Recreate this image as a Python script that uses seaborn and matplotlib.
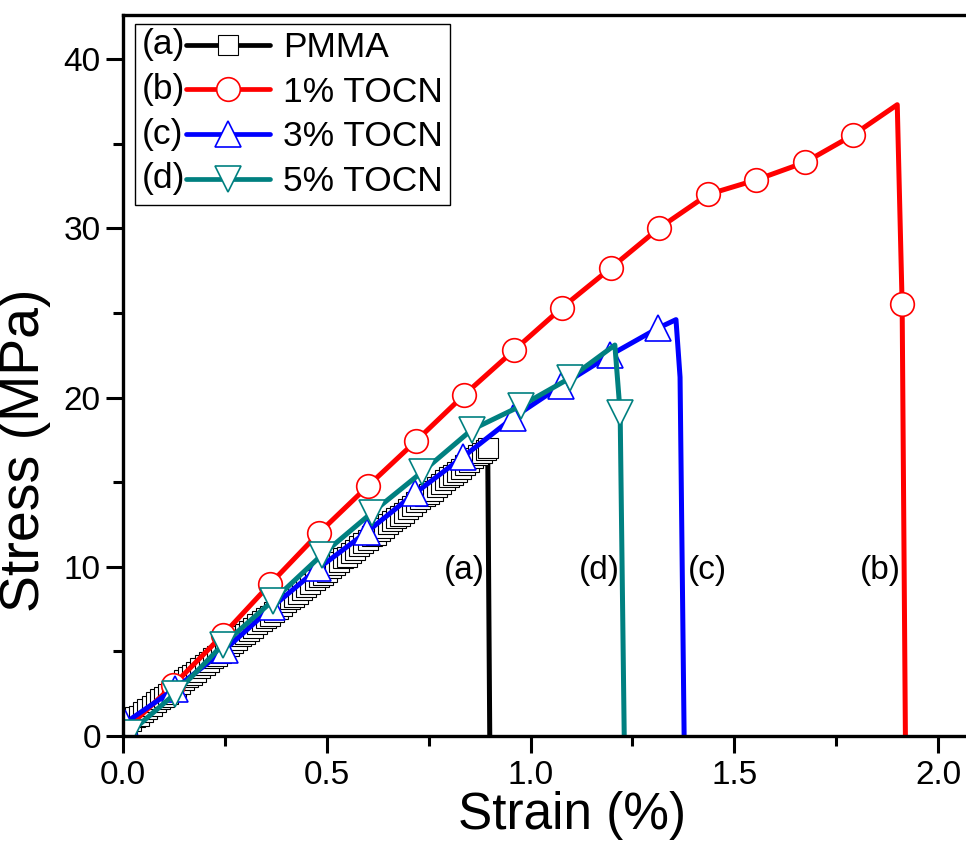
import matplotlib
matplotlib.use("Agg")
import matplotlib.pyplot as plt
from matplotlib.lines import Line2D
from matplotlib.legend_handler import HandlerLine2D
from matplotlib.text import Text
from matplotlib.ticker import MultipleLocator
import seaborn as sns

# ---------------- data ----------------
series_names = ["PMMA", "1% TOCN", "3% TOCN", "5% TOCN"]
series_letters = ["(a)", "(b)", "(c)", "(d)"]

pmma_strain = [0.01, 0.02, 0.03, 0.04, 0.05, 0.06, 0.07, 0.08, 0.09, 0.10,
               0.11, 0.12, 0.13, 0.14, 0.15, 0.16, 0.17, 0.18, 0.19, 0.20,
               0.21, 0.22, 0.23, 0.24, 0.25, 0.26, 0.27, 0.28, 0.29, 0.30,
               0.31, 0.32, 0.33, 0.34, 0.35, 0.36, 0.37, 0.38, 0.39, 0.40,
               0.41, 0.42, 0.43, 0.44, 0.45, 0.46, 0.47, 0.48, 0.49, 0.50,
               0.51, 0.52, 0.53, 0.54, 0.55, 0.56, 0.57, 0.58, 0.59, 0.60,
               0.61, 0.62, 0.63, 0.64, 0.65, 0.66, 0.67, 0.68, 0.69, 0.70,
               0.71, 0.72, 0.73, 0.74, 0.75, 0.76, 0.77, 0.78, 0.79, 0.80,
               0.81, 0.82, 0.83, 0.84, 0.85, 0.86, 0.87, 0.88, 0.89,
               0.895, 0.900]
pmma_stress = [0.7, 0.9, 1.1, 1.2, 1.4, 1.6, 1.8, 2.0, 2.2, 2.3,
               2.5, 2.7, 2.9, 3.1, 3.3, 3.5, 3.6, 3.8, 4.0, 4.2,
               4.4, 4.6, 4.7, 4.9, 5.1, 5.3, 5.5, 5.7, 5.9, 6.0,
               6.2, 6.4, 6.6, 6.8, 7.0, 7.1, 7.3, 7.5, 7.7, 7.9,
               8.1, 8.2, 8.4, 8.6, 8.8, 9.0, 9.2, 9.4, 9.5, 9.7,
               9.9, 10.1, 10.3, 10.5, 10.6, 10.8, 11.0, 11.2, 11.4, 11.6,
               11.8, 11.9, 12.1, 12.3, 12.5, 12.7, 12.9, 13.0, 13.2, 13.4,
               13.6, 13.8, 14.0, 14.2, 14.3, 14.5, 14.7, 14.9, 15.1, 15.3,
               15.4, 15.6, 15.8, 16.0, 16.2, 16.4, 16.6, 16.7, 16.9,
               17.0, 0.0]

tocn1_strain = [0.003, 0.123, 0.245, 0.361, 0.481, 0.601, 0.719, 0.837, 0.960,
                1.077, 1.197, 1.315, 1.436, 1.553, 1.674, 1.791, 1.900, 1.912, 1.920]
tocn1_stress = [0.3, 3.0, 5.97, 8.98, 12.0, 14.77, 17.43, 20.15, 22.8,
                25.3, 27.65, 30.0, 32.0, 32.85, 33.9, 35.5, 37.3, 25.5, 0.0]

tocn3_strain = [0.005, 0.128, 0.250, 0.365, 0.479, 0.598, 0.717, 0.835, 0.957,
                1.075, 1.195, 1.313, 1.357, 1.367, 1.377]
tocn3_stress = [0.77, 2.8, 5.1, 7.6, 9.9, 12.05, 14.35, 16.5, 18.8,
                20.7, 22.5, 24.1, 24.6, 21.2, 0.0]

tocn5_strain = [0.017, 0.128, 0.245, 0.368, 0.488, 0.611, 0.734, 0.856, 0.976,
                1.097, 1.207, 1.220, 1.230]
tocn5_stress = [0.2, 2.5, 5.4, 8.0, 10.7, 13.2, 15.6, 18.1, 19.5,
                21.15, 23.1, 19.1, 0.0]

# which measured points carry a symbol (the others are unmarked line points)
pmma_marked = list(range(len(pmma_strain) - 1))
tocn1_marked = [i for i in range(len(tocn1_strain)) if i not in (16, 18)]
tocn3_marked = list(range(12))
tocn5_marked = [i for i in range(len(tocn5_strain)) if i not in (10, 12)]

break_label_strain = [0.837, 1.858, 1.433, 1.168]   # (a), (b), (c), (d)
break_label_stress = [9.75, 9.75, 9.75, 9.75]

x_ticks = [0.0, 0.5, 1.0, 1.5, 2.0]
x_tick_labels = ["0.0", "0.5", "1.0", "1.5", "2.0"]
y_ticks = [0, 10, 20, 30, 40]
y_tick_labels = ["0", "10", "20", "30", "40"]

# ---------------- style ----------------
sns.set_theme(style="ticks")
plt.rcParams["font.family"] = ["Liberation Sans", "DejaVu Sans"]
plt.rcParams["text.color"] = "black"
plt.rcParams["axes.labelcolor"] = "black"
plt.rcParams["xtick.color"] = "black"
plt.rcParams["ytick.color"] = "black"
plt.rcParams["axes.edgecolor"] = "black"

colors = ["#000000", "#FF0000", "#0000FF", "#008080"]
markers = ["s", "o", "^", "v"]
msizes = [14.5, 17, 18.5, 18.5]
medgew = [0.8, 1.2, 1.2, 1.2]

W, H = 966, 841
fig = plt.figure(figsize=(W / 100, H / 100), dpi=100)
px_per_x = 407.5
ax_left, ax_bottom = 123, 105
ax_w = 2.1 * px_per_x
ax_h = 721
ax = fig.add_axes([ax_left / W, ax_bottom / H, ax_w / W, ax_h / H])

data = [(pmma_strain, pmma_stress, pmma_marked),
        (tocn1_strain, tocn1_stress, tocn1_marked),
        (tocn3_strain, tocn3_stress, tocn3_marked),
        (tocn5_strain, tocn5_stress, tocn5_marked)]

for (xs, ys, marked), c, m, ms, mw in zip(data, colors, markers, msizes, medgew):
    sns.lineplot(x=xs, y=ys, sort=False, estimator=None, ax=ax,
                 color=c, linewidth=3.6, marker=m, markevery=marked,
                 markersize=ms, markerfacecolor="white",
                 markeredgecolor=c, markeredgewidth=mw)

for lab, bx, by in zip(series_letters, break_label_strain, break_label_stress):
    ax.text(bx, by, lab, ha="center", va="center", fontsize=24, color="black")

ax.set_xlim(0, 2.1)
ax.set_ylim(0, ax_h / 16.925)
ax.set_xticks(x_ticks)
ax.set_xticklabels(x_tick_labels)
ax.set_yticks(y_ticks)
ax.set_yticklabels(y_tick_labels)
ax.xaxis.set_minor_locator(MultipleLocator(0.25))
ax.yaxis.set_minor_locator(MultipleLocator(5))
ax.tick_params(which="major", direction="out", length=12, width=2.2,
               labelsize=24, colors="black")
ax.tick_params(axis="x", which="major", pad=5)
ax.tick_params(axis="y", which="major", pad=4)
ax.tick_params(which="minor", direction="out", length=7, width=2.2,
               colors="black")
ax.tick_params(top=False, right=False, which="both")
for sp in ax.spines.values():
    sp.set_visible(True)
    sp.set_linewidth(2.4)
    sp.set_color("black")

ax.set_xlabel("Strain (%)", fontsize=37, color="black")
ax.set_ylabel("Stress (MPa)", fontsize=40, color="black")
ax.xaxis.set_label_coords((572 - ax_left) / ax_w, (736 - 791) / ax_h)
ax.yaxis.set_label_coords((51 - ax_left) / ax_w, (736 - 450) / ax_h)


class LetterHandler(HandlerLine2D):
    def __init__(self, letter, offset_em, **kw):
        super().__init__(**kw)
        self.letter = letter
        self.offset_em = offset_em

    def create_artists(self, legend, orig_handle, xdescent, ydescent,
                       width, height, fontsize, trans):
        off = self.offset_em * fontsize
        arts = super().create_artists(legend, orig_handle, xdescent - off,
                                      ydescent, width - off, height,
                                      fontsize, trans)
        t = Text(-xdescent, (height - ydescent) / 2, self.letter,
                 ha="left", va="center", fontsize=fontsize, color="black",
                 transform=trans)
        return list(arts) + [t]


handles = [Line2D([], [], color=c, linewidth=3.4, marker=m, markersize=ms,
                  markerfacecolor="white", markeredgecolor=c, markeredgewidth=mw)
           for c, m, ms, mw in zip(colors, markers, msizes, medgew)]
handler_map = {h: LetterHandler(l, 1.25, numpoints=1)
               for h, l in zip(handles, series_letters)}
leg = ax.legend(handles, series_names, handler_map=handler_map,
                loc="upper left",
                bbox_to_anchor=((135 - ax_left) / ax_w, (736 - 24) / ax_h),
                borderaxespad=0, fontsize=25.5, handlelength=3.6,
                handletextpad=0.37, labelspacing=0.33, borderpad=0.2,
                frameon=True, fancybox=False, framealpha=1, numpoints=1)
leg.get_frame().set_edgecolor("black")
leg.get_frame().set_linewidth(1.0)
for t in leg.get_texts():
    t.set_color("black")

fig.savefig("out.png", dpi=100)
